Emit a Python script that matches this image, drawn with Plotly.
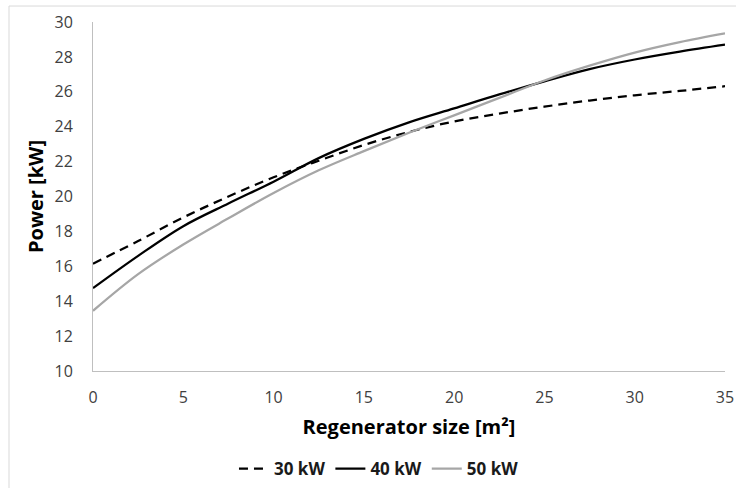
import plotly.graph_objects as go

x_vals = [0, 2.5, 5, 7.5, 10, 12.5, 15, 17.5, 20, 22.5, 25, 27.5, 30, 32.5, 35]
p30 = [16.15, 17.45, 18.8, 20.0, 21.1, 22.05, 22.95, 23.7, 24.3, 24.75, 25.15, 25.5, 25.8, 26.05, 26.32]
p40 = [14.75, 16.6, 18.3, 19.6, 20.85, 22.2, 23.3, 24.25, 25.05, 25.85, 26.6, 27.3, 27.85, 28.3, 28.7]
p50 = [13.45, 15.55, 17.25, 18.75, 20.2, 21.5, 22.6, 23.65, 24.65, 25.65, 26.65, 27.5, 28.25, 28.85, 29.35]
series_names = ["30 kW", "40 kW", "50 kW"]
x_ticks = [0, 5, 10, 15, 20, 25, 30, 35]
y_ticks = [10, 12, 14, 16, 18, 20, 22, 24, 26, 28, 30]

FONT = "Open Sans"

fig = go.Figure()
fig.add_trace(go.Scatter(x=x_vals, y=p30, name=series_names[0], mode="lines",
                         line=dict(color="#000000", width=2.25, dash="9px,6px", shape="spline", smoothing=1)))
fig.add_trace(go.Scatter(x=x_vals, y=p40, name=series_names[1], mode="lines",
                         line=dict(color="#000000", width=2.25, shape="spline", smoothing=1)))
fig.add_trace(go.Scatter(x=x_vals, y=p50, name=series_names[2], mode="lines",
                         line=dict(color="#a6a6a6", width=2.25, shape="spline", smoothing=1)))

fig.update_layout(
    width=736, height=488,
    margin=dict(l=93, r=11, t=22, b=117, autoexpand=False),
    paper_bgcolor="white", plot_bgcolor="white",
    font=dict(family=FONT, color="#404040", size=16),
    showlegend=True,
    legend=dict(orientation="h", x=0.4525, xanchor="center", y=-0.281, yanchor="middle",
                font=dict(family=FONT, size=17, color="#1a1a1a", weight="bold"),
                itemwidth=30, tracegroupgap=0),
    xaxis=dict(range=[0, 35], tickvals=x_ticks, showgrid=False, zeroline=False,
               showline=True, linecolor="#bfbfbf", linewidth=1, automargin=False,
               ticks="", ticklabelstandoff=12,
               tickfont=dict(family=FONT, size=16, color="#404040"),
               title=dict(text="Regenerator size [m²]", standoff=12,
                          font=dict(family=FONT, size=20, color="#000000", weight="bold"))),
    yaxis=dict(range=[10, 30], tickvals=y_ticks, showgrid=False, zeroline=False,
               showline=True, linecolor="#bfbfbf", linewidth=1, automargin=False,
               ticks="", ticklabelstandoff=16,
               tickfont=dict(family=FONT, size=16, color="#404040"),
               title=dict(text="Power [kW]", standoff=5,
                          font=dict(family=FONT, size=20, color="#000000", weight="bold"))),
    shapes=[dict(type="rect", xref="paper", yref="paper",
                 x0=-0.1329, x1=1.2, y0=-0.6, y1=1.0458,
                 line=dict(color="#d9d9d9", width=1), layer="below")],
)

fig.write_html("out.html", config={"displayModeBar": False},
               post_script="document.body.style.margin='0';")
